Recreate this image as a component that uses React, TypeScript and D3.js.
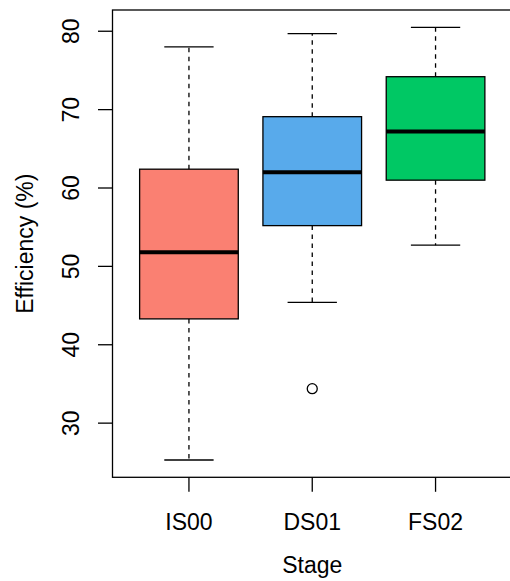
import React, { useRef, useEffect } from "react";
import * as d3 from "d3";

const stages = ["IS00", "DS01", "FS02"];
const lowerWhisker = [25.3, 45.4, 52.7];
const q1 = [43.3, 55.2, 61.0];
const medians = [51.8, 62.0, 67.2];
const q3 = [62.4, 69.1, 74.2];
const upperWhisker = [78.0, 79.7, 80.5];
const outliers = [[], [34.4], []];
const fills = ["#fa8072", "#58aaeb", "#00c864"];
const yTicks = [30, 40, 50, 60, 70, 80];

const W = 510;
const H = 581;

const BoxChart = () => {
    const ref = useRef(null);

    useEffect(() => {
        if (!ref.current) return;
        const svg = d3.select(ref.current);
        svg.selectAll("*").remove();

        const left = 112.5;
        const right = 512;
        const top = 10;
        const bottom = 477.3;

        const x = d3.scaleLinear().domain([0.38, 3.62]).range([left, right]);
        const y = d3.scaleLinear().domain([23.09, 82.71]).range([bottom, top]);

        const boxHalf = (x(1.4) - x(1)) ; // boxwex 0.8
        const capHalf = boxHalf / 2;

        const g = svg.append("g");

        stages.forEach((s, i) => {
            const cx = x(i + 1);

            // whiskers (dashed)
            g.append("line")
                .attr("x1", cx).attr("x2", cx)
                .attr("y1", y(q3[i])).attr("y2", y(upperWhisker[i]))
                .attr("stroke", "#000").attr("stroke-width", 1.3)
                .attr("stroke-dasharray", "4.5,4.5");
            g.append("line")
                .attr("x1", cx).attr("x2", cx)
                .attr("y1", y(q1[i])).attr("y2", y(lowerWhisker[i]))
                .attr("stroke", "#000").attr("stroke-width", 1.3)
                .attr("stroke-dasharray", "4.5,4.5");

            // caps
            [lowerWhisker[i], upperWhisker[i]].forEach((v) => {
                g.append("line")
                    .attr("x1", cx - capHalf).attr("x2", cx + capHalf)
                    .attr("y1", y(v)).attr("y2", y(v))
                    .attr("stroke", "#000").attr("stroke-width", 1.3);
            });

            // box
            g.append("rect")
                .attr("x", cx - boxHalf)
                .attr("y", y(q3[i]))
                .attr("width", boxHalf * 2)
                .attr("height", y(q1[i]) - y(q3[i]))
                .attr("fill", fills[i])
                .attr("stroke", "#000")
                .attr("stroke-width", 1.3);

            // median
            g.append("line")
                .attr("x1", cx - boxHalf).attr("x2", cx + boxHalf)
                .attr("y1", y(medians[i])).attr("y2", y(medians[i]))
                .attr("stroke", "#000").attr("stroke-width", 4);

            outliers[i].forEach((v) => {
                g.append("circle")
                    .attr("cx", cx).attr("cy", y(v)).attr("r", 5)
                    .attr("fill", "none").attr("stroke", "#000")
                    .attr("stroke-width", 1.3);
            });
        });

        // frame
        svg.append("rect")
            .attr("x", left).attr("y", top)
            .attr("width", right - left).attr("height", bottom - top)
            .attr("fill", "none").attr("stroke", "#000").attr("stroke-width", 1.3);

        const font = "'Liberation Sans', Arial, sans-serif";

        // y axis
        const yAxis = svg.append("g");
        yTicks.forEach((t) => {
            yAxis.append("line")
                .attr("x1", left - 14.5).attr("x2", left)
                .attr("y1", y(t)).attr("y2", y(t))
                .attr("stroke", "#000").attr("stroke-width", 1.3);
            yAxis.append("text")
                .attr("transform", `translate(79,${y(t)}) rotate(-90)`)
                .attr("text-anchor", "middle")
                .attr("font-family", font)
                .attr("font-size", 23)
                .text(t);
        });

        // x axis
        const xAxis = svg.append("g");
        stages.forEach((s, i) => {
            xAxis.append("line")
                .attr("x1", x(i + 1)).attr("x2", x(i + 1))
                .attr("y1", bottom).attr("y2", bottom + 14.5)
                .attr("stroke", "#000").attr("stroke-width", 1.3);
            xAxis.append("text")
                .attr("x", x(i + 1)).attr("y", 530)
                .attr("text-anchor", "middle")
                .attr("font-family", font)
                .attr("font-size", 23)
                .text(s);
        });

        svg.append("text")
            .attr("x", x(2)).attr("y", 573)
            .attr("text-anchor", "middle")
            .attr("font-family", font)
            .attr("font-size", 23)
            .text("Stage");

        svg.append("text")
            .attr("transform", `translate(33,${(top + bottom) / 2}) rotate(-90)`)
            .attr("text-anchor", "middle")
            .attr("font-family", font)
            .attr("font-size", 23)
            .text("Efficiency (%)");
    }, []);

    return (
        <svg
            ref={ref}
            width={W}
            height={H}
            style={{ position: "absolute", left: 0, top: 0, background: "#fff" }}
        />
    );
};

export default function App() {
    return <BoxChart />;
}
